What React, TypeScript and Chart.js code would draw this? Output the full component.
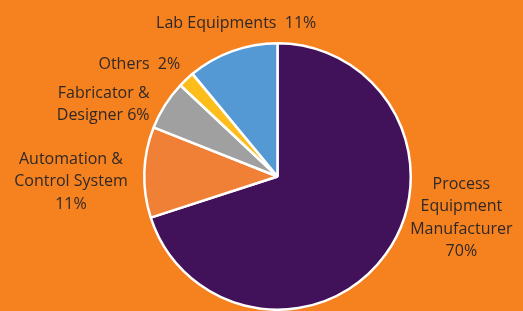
import React, { useEffect, useRef } from "react";
import { Chart, registerables } from "chart.js";

Chart.register(...registerables);

const categories = [
  "Process Equipment Manufacturer",
  "Automation & Control System",
  "Fabricator & Designer",
  "Others",
  "Lab Equipments",
];
const shares = [70, 11, 6, 2, 11];
const labelLines = [
  ["Process", "Equipment", "Manufacturer", "70%"],
  ["Automation &", "Control System", "11%"],
  ["Fabricator &", "Designer 6%"],
  ["Others  2%"],
  ["Lab Equipments  11%"],
];
const sliceColors = ["#41125A", "#F08036", "#A0A0A0", "#FDBE1C", "#5499D3"];

// label block placement relative to pie center, in units of radius
const labelLayout = [
  { kx: 1.38, ky: 0.31, align: "center" },
  { kx: -1.55, ky: 0.04, align: "center" },
  { kx: -0.96, ky: -0.54, align: "right" },
  { kx: -0.73, ky: -0.84, align: "right" },
  { kx: -0.31, ky: -1.15, align: "center" },
];

const FONT_FAMILY = "'Open Sans', sans-serif";
const FONT_SIZE = 16;
const LINE_H = 22.5;

const labelPlugin = {
  id: "outerLabels",
  afterDraw(chart: any) {
    const meta = chart.getDatasetMeta(0);
    const arc0 = meta.data[0];
    if (!arc0) return;
    const { x: cx, y: cy, outerRadius: r } = arc0.getProps(["x", "y", "outerRadius"], true);
    const ctx = chart.ctx;
    ctx.save();
    ctx.font = `${FONT_SIZE}px ${FONT_FAMILY}`;
    ctx.fillStyle = "#302826";
    ctx.textBaseline = "middle";
    labelLines.forEach((lines, i) => {
      const lay = labelLayout[i];
      const bx = cx + lay.kx * r;
      const by = cy + lay.ky * r;
      ctx.textAlign = lay.align;
      const top = by - ((lines.length - 1) * LINE_H) / 2;
      lines.forEach((ln, j) => ctx.fillText(ln, bx, top + j * LINE_H));
    });
    ctx.restore();
  },
};

const bgPlugin = {
  id: "bg",
  beforeDraw(chart: any) {
    const ctx = chart.ctx;
    ctx.save();
    ctx.fillStyle = "#F5821F";
    ctx.fillRect(0, 0, chart.width, chart.height);
    ctx.restore();
  },
};

export default function App() {
  const ref = useRef<HTMLCanvasElement>(null);
  useEffect(() => {
    document.body.style.margin = "0";
    const chart = new Chart(ref.current!, {
      type: "pie",
      data: {
        labels: categories,
        datasets: [
          {
            data: shares,
            backgroundColor: sliceColors,
            borderColor: "#ffffff",
            borderWidth: 2.5,
          },
        ],
      },
      options: {
        responsive: false,
        animation: false,
        layout: { padding: { top: 42, left: 32, right: 0, bottom: 0 } },
        plugins: {
          legend: { display: false },
          tooltip: { enabled: false },
          title: { display: false },
        },
      },
      plugins: [bgPlugin, labelPlugin],
    });
    return () => chart.destroy();
  }, []);
  return (
    <div style={{ width: 523, height: 311 }}>
      <canvas ref={ref} width={523} height={311} style={{ display: "block" }} />
    </div>
  );
}
